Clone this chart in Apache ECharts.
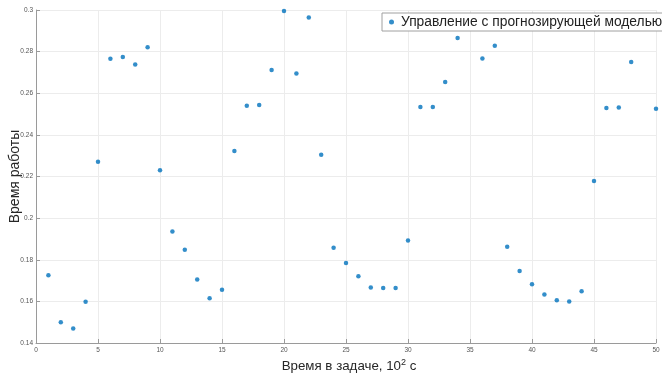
<!DOCTYPE html>
<html>
<head>
<meta charset="utf-8">
<script src="https://cdn.jsdelivr.net/npm/echarts@6/dist/echarts.min.js"></script>
<style>
  html, body { margin: 0; padding: 0; background: #fff; }
  #chart { width: 662px; height: 373px; }
</style>
</head>
<body>
<div id="chart"></div>
<script>
// Task time (hundreds of seconds) and measured run time for the MPC controller
const taskTimes = [1, 2, 3, 4, 5, 6, 7, 8, 9, 10,
  11, 12, 13, 14, 15, 16, 17, 18, 19, 20,
  21, 22, 23, 24, 25, 26, 27, 28, 29, 30,
  31, 32, 33, 34, 36, 37, 38, 39, 40,
  41, 42, 43, 44, 45, 46, 47, 48, 50];
const runTimes = [0.1725, 0.1500, 0.1470, 0.1598, 0.2271, 0.2766, 0.2774, 0.2738, 0.2821, 0.2230,
  0.1936, 0.1848, 0.1705, 0.1615, 0.1656, 0.2322, 0.2540, 0.2543, 0.2712, 0.2995,
  0.2695, 0.2964, 0.2305, 0.1858, 0.1784, 0.1721, 0.1667, 0.1664, 0.1664, 0.1892,
  0.2534, 0.2534, 0.2654, 0.2865, 0.2767, 0.2828, 0.1863, 0.1746, 0.1682,
  0.1633, 0.1606, 0.1599, 0.1649, 0.2178, 0.2529, 0.2532, 0.2750, 0.2525];
const seriesName = 'Управление с прогнозирующей моделью';
const xTicks = [0, 5, 10, 15, 20, 25, 30, 35, 40, 45, 50];
const yTicks = [0.14, 0.16, 0.18, 0.2, 0.22, 0.24, 0.26, 0.28, 0.3];

const points = taskTimes.map((t, i) => [t, runTimes[i]]);
const font = 'Liberation Sans, Arial, Helvetica, sans-serif';

const chart = echarts.init(document.getElementById('chart'), null, { renderer: 'canvas' });
chart.setOption({
  animation: false,
  backgroundColor: '#ffffff',
  grid: {
    left: 36, right: 6, top: 10, bottom: 30,
    containLabel: false,
    outerBoundsMode: 'none'
  },
  legend: {
    data: [seriesName],
    left: 382,
    top: 13,
    padding: [2, 6, 2, 7],
    itemWidth: 5,
    itemHeight: 5,
    itemGap: 6,
    icon: 'circle',
    backgroundColor: '#ffffff',
    borderColor: '#a0a0a0',
    borderWidth: 1,
    textStyle: { fontFamily: font, fontSize: 13.8, color: '#222', padding: [0, 0, 0, 2] },
    z: 10
  },
  xAxis: {
    type: 'value',
    min: xTicks[0],
    max: xTicks[xTicks.length - 1],
    interval: 5,
    name: '{t|Время в задаче, 10}{s|2}{t| с}',
    nameLocation: 'middle',
    nameGap: 15,
    nameMoveOverlap: false,
    nameTextStyle: {
      verticalAlign: 'top',
      padding: [0, 0, 0, 6],
      rich: {
        t: { fontFamily: font, fontSize: 13.3, color: '#262626', lineHeight: 16 },
        s: { fontFamily: font, fontSize: 9, color: '#262626', lineHeight: 16, verticalAlign: 'top', padding: [0, 0, 5, 0] }
      }
    },
    axisLine: { show: true, lineStyle: { color: '#9a9a9a', width: 1 } },
    axisTick: { show: true, inside: true, length: 4, lineStyle: { color: '#9a9a9a' } },
    axisLabel: { fontFamily: font, fontSize: 6.5, color: '#555', margin: 4 },
    splitLine: { show: true, lineStyle: { color: '#ececec', width: 1 } }
  },
  yAxis: {
    type: 'value',
    min: yTicks[0],
    max: yTicks[yTicks.length - 1],
    interval: 0.02,
    name: 'Время работы',
    nameLocation: 'middle',
    nameGap: 14,
    nameMoveOverlap: false,
    nameTextStyle: { fontFamily: font, fontSize: 14, color: '#262626' },
    axisLine: { show: true, lineStyle: { color: '#9a9a9a', width: 1 } },
    axisTick: { show: true, inside: true, length: 4, lineStyle: { color: '#9a9a9a' } },
    axisLabel: {
      fontFamily: font, fontSize: 6.5, color: '#555', margin: 3,
      formatter: v => String(parseFloat(v.toFixed(2)))
    },
    splitLine: { show: true, lineStyle: { color: '#ececec', width: 1 } }
  },
  series: [{
    name: seriesName,
    type: 'scatter',
    data: points,
    symbol: 'circle',
    symbolSize: 4.5,
    itemStyle: { color: '#0072BD' },
    z: 2
  }]
});
</script>
</body>
</html>
